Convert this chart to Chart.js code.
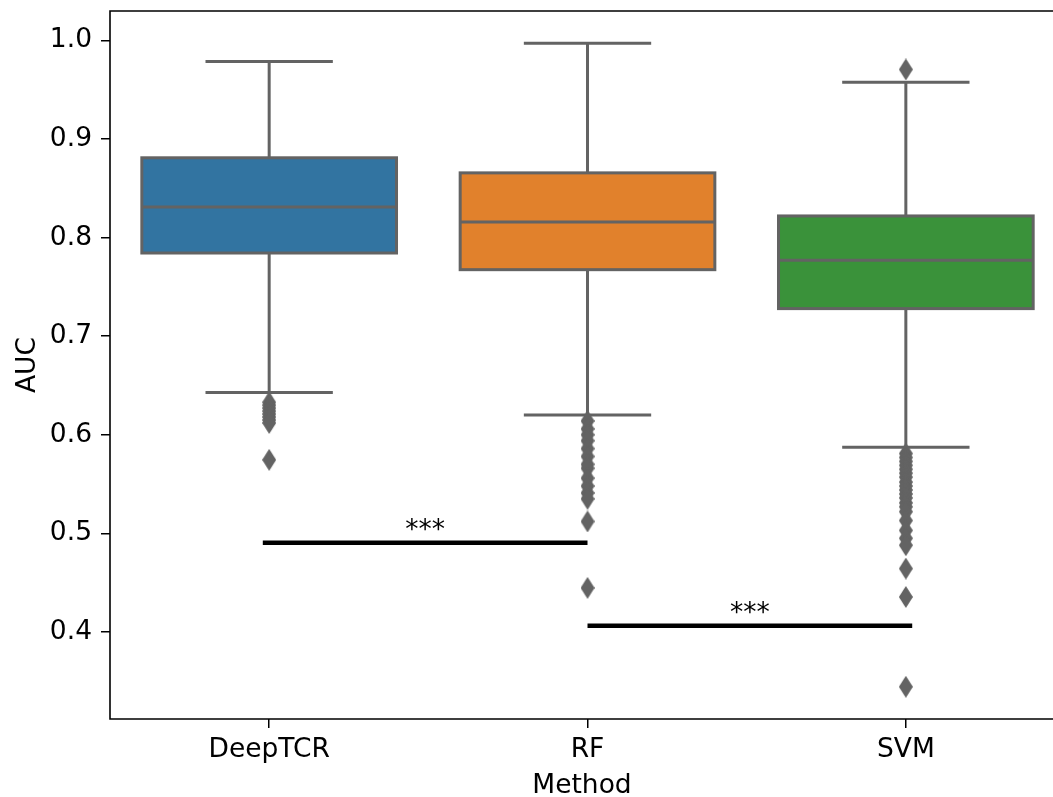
<!DOCTYPE html>
<html>
<head>
<meta charset="utf-8">
<script src="https://cdn.jsdelivr.net/npm/chart.js@4.4.1/dist/chart.umd.min.js"></script>
<style>
  html, body { margin: 0; padding: 0; background: #fff; overflow: hidden; }
  #wrap { width: 1053px; height: 797px; overflow: hidden; }
</style>
</head>
<body>
<div id="wrap"><canvas id="auc" width="1065" height="797"></canvas></div>
<script>
// box statistics per method
const methods = ['DeepTCR', 'RF', 'SVM'];
const q1 = [0.7844, 0.7675, 0.7280];
const medians = [0.8310, 0.8158, 0.7770];
const q3 = [0.8810, 0.8657, 0.8220];
const whiskerLow = [0.6430, 0.6200, 0.5874];
const whiskerHigh = [0.9787, 0.9973, 0.9575];

// fliers
const outliersDeepTCR = [0.633, 0.630, 0.627, 0.624, 0.621, 0.618, 0.615, 0.612, 0.5746];
const outliersRF = [0.614, 0.606, 0.600, 0.594, 0.586, 0.578, 0.570, 0.566, 0.556, 0.548, 0.541, 0.535, 0.5121, 0.4447];
const outliersSVM = [0.9706, 0.581, 0.577, 0.573, 0.569, 0.565, 0.561, 0.557, 0.552, 0.548, 0.544, 0.540,
                     0.536, 0.531, 0.527, 0.522, 0.513, 0.503, 0.495, 0.488, 0.4643, 0.4355, 0.3444];

// significance brackets
const sigFrom = [-0.02, 1.0];
const sigTo = [1.0, 2.02];
const sigY = [0.4906, 0.4062];
const sigText = ['***', '***'];

const yTicks = [0.4, 0.5, 0.6, 0.7, 0.8, 0.9, 1.0];
const yMin = 0.3117, yMax = 1.0299;
// right limit falls at the visible edge
const xMin = -0.5, xMax = 2.4654;

const boxColors = ['#3274a1', '#e1812c', '#3a923a'];
const lineGray = '#636363';
const fontSize = 26.5;

Chart.defaults.font.family = "'DejaVu Sans', sans-serif";
Chart.defaults.font.size = fontSize;
Chart.defaults.color = '#000';

// thin diamond marker like matplotlib's 'd'
function makeDiamond(w, h, color) {
    var c = document.createElement('canvas');
    c.width = w; c.height = h;
    var g = c.getContext('2d');
    g.fillStyle = color;
    g.beginPath();
    g.moveTo(w / 2, 0);
    g.lineTo(w, h / 2);
    g.lineTo(w / 2, h);
    g.lineTo(0, h / 2);
    g.closePath();
    g.fill();
    return c;
}
var diamond = makeDiamond(14, 22, lineGray);

// box outlines, whiskers, caps and medians, drawn right after the box fills
var boxDetails = {
    id: 'boxDetails',
    afterDatasetDraw: function (chart, args) {
        if (chart.data.datasets[args.index].type !== 'bar') return;
        var ctx = chart.ctx, y = chart.scales.y;
        ctx.save();
        ctx.strokeStyle = lineGray;
        ctx.lineWidth = 3;
        ctx.lineCap = 'butt';
        args.meta.data.forEach(function (bar, i) {
            var half = bar.width / 2, cx = bar.x;
            var top = y.getPixelForValue(q3[i]);
            var bot = y.getPixelForValue(q1[i]);
            var lo = y.getPixelForValue(whiskerLow[i]);
            var hi = y.getPixelForValue(whiskerHigh[i]);
            var med = y.getPixelForValue(medians[i]);
            ctx.beginPath();
            ctx.moveTo(cx, top); ctx.lineTo(cx, hi);
            ctx.moveTo(cx, bot); ctx.lineTo(cx, lo);
            ctx.moveTo(cx - half / 2, hi); ctx.lineTo(cx + half / 2, hi);
            ctx.moveTo(cx - half / 2, lo); ctx.lineTo(cx + half / 2, lo);
            ctx.moveTo(cx - half, med); ctx.lineTo(cx + half, med);
            ctx.stroke();
            ctx.strokeRect(cx - half, top, 2 * half, bot - top);
        });
        ctx.restore();
    },
    afterDatasetsDraw: function (chart) {
        var ctx = chart.ctx, x = chart.scales.x, y = chart.scales.y;
        ctx.save();
        ctx.fillStyle = '#000';
        ctx.font = fontSize + "px 'DejaVu Sans'";
        ctx.textAlign = 'center';
        ctx.textBaseline = 'alphabetic';
        sigText.forEach(function (t, i) {
            ctx.fillText(t, x.getPixelForValue((sigFrom[i] + sigTo[i]) / 2), y.getPixelForValue(sigY[i]) - 5);
        });
        // left, top and bottom spines
        var a = chart.chartArea;
        ctx.strokeStyle = '#000';
        ctx.lineWidth = 1.6;
        ctx.beginPath();
        ctx.moveTo(a.right, a.top);
        ctx.lineTo(a.left, a.top);
        ctx.lineTo(a.left, a.bottom);
        ctx.lineTo(a.right, a.bottom);
        ctx.stroke();
        ctx.restore();
    }
};

var datasets = [];
sigY.forEach(function (v, i) {
    datasets.push({
        type: 'line',
        data: [{ x: sigFrom[i], y: v }, { x: sigTo[i], y: v }],
        borderColor: '#000',
        borderWidth: 4.5,
        borderCapStyle: 'butt',
        pointRadius: 0,
        fill: false
    });
});
[outliersDeepTCR, outliersRF, outliersSVM].forEach(function (list, i) {
    datasets.push({
        type: 'scatter',
        data: list.map(function (v) { return { x: i, y: v }; }),
        pointStyle: diamond,
        pointRadius: 11,
        backgroundColor: lineGray,
        borderWidth: 0
    });
});
datasets.push({
    type: 'bar',
    data: methods.map(function (m, i) { return { x: i, y: [q1[i], q3[i]] }; }),
    backgroundColor: boxColors,
    borderWidth: 0,
    categoryPercentage: 0.8,
    barPercentage: 1.0
});

new Chart(document.getElementById('auc'), {
    type: 'bar',
    data: { datasets: datasets },
    plugins: [boxDetails],
    options: {
        responsive: false,
        animation: false,
        devicePixelRatio: 1,
        layout: { padding: { left: 0, top: 9.5, right: 0, bottom: 0 } },
        plugins: { legend: { display: false }, tooltip: { enabled: false } },
        scales: {
            x: {
                type: 'linear',
                min: xMin,
                max: xMax,
                offset: false,
                border: { display: false },
                grid: { drawOnChartArea: false, offset: false, color: '#000', tickColor: '#000', tickLength: 9, lineWidth: 1.5 },
                ticks: {
                    padding: 6,
                    color: '#000',
                    callback: function (v) { return methods[v]; }
                },
                afterBuildTicks: function (s) { s.ticks = methods.map(function (m, i) { return { value: i }; }); },
                afterFit: function (s) { s.height = 78; s.paddingLeft = 0; s.paddingRight = 0; },
                title: { display: true, text: 'Method', color: '#000', padding: { top: 0, bottom: -5 } }
            },
            y: {
                type: 'linear',
                min: yMin,
                max: yMax,
                border: { display: false },
                grid: { drawOnChartArea: false, color: '#000', tickColor: '#000', tickLength: 9, lineWidth: 1.5 },
                ticks: {
                    padding: 9,
                    color: '#000',
                    callback: function (v) { return v.toFixed(1); }
                },
                afterBuildTicks: function (s) { s.ticks = yTicks.map(function (v) { return { value: v }; }); },
                afterFit: function (s) { s.width = 110; s.paddingTop = 0; s.paddingBottom = 0; },
                title: { display: true, text: 'AUC', color: '#000', padding: { top: 12, bottom: 0 } }
            }
        }
    }
});
</script>
</body>
</html>
